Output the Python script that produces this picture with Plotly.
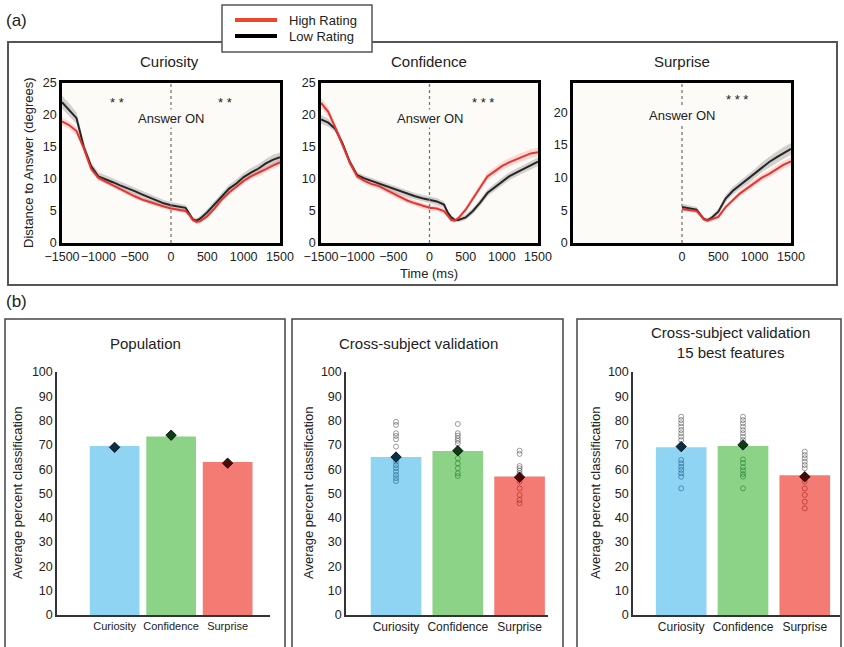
import plotly.graph_objects as go

W, H = 844, 647

# ---------------- data: panel (a) ----------------
TIME = [-1500, -1400, -1300, -1200, -1100, -1000, -900, -800, -700, -600, -500, -400, -300, -200, -100,
        0, 100, 200, 250, 300, 350, 400, 500, 600, 700, 800, 900, 1000, 1100, 1200, 1300, 1400, 1500]
TIME_S = [0, 100, 200, 250, 300, 350, 400, 500, 600, 700, 800, 900, 1000, 1100, 1200, 1300, 1400, 1500]
X_TICKS = [-1500, -1000, -500, 0, 500, 1000, 1500]
X_TICKS_S = [0, 500, 1000, 1500]
Y_TICKS_A = [0, 5, 10, 15, 20, 25]
Y_TICKS_S = [0, 5, 10, 15, 20]

CUR_HIGH = [19.0, 18.4, 17.5, 14.8, 11.6, 10.2, 9.6, 9.0, 8.5, 7.9, 7.3, 6.8, 6.4, 6.0, 5.7,
            5.4, 5.2, 5.0, 4.4, 3.6, 3.3, 3.4, 4.2, 5.4, 6.8, 7.9, 8.8, 9.7, 10.4, 10.9, 11.5, 12.1, 12.6]
CUR_LOW = [22.0, 20.8, 19.5, 15.0, 12.0, 10.4, 10.0, 9.5, 9.0, 8.6, 8.1, 7.6, 7.1, 6.6, 6.2,
           5.9, 5.7, 5.5, 4.6, 3.7, 3.5, 3.8, 4.8, 6.0, 7.3, 8.5, 9.3, 10.3, 11.0, 11.6, 12.4, 13.0, 13.4]
CUR_HIGH_SEM = [0.6, 0.6, 0.6, 0.5, 0.4, 0.4, 0.4, 0.4, 0.4, 0.4, 0.4, 0.35, 0.35, 0.35, 0.35,
                0.35, 0.35, 0.35, 0.3, 0.3, 0.3, 0.3, 0.35, 0.4, 0.4, 0.4, 0.45, 0.45, 0.45, 0.5, 0.5, 0.5, 0.5]
CUR_LOW_SEM = [1.0, 1.0, 0.9, 0.8, 0.7, 0.6, 0.6, 0.6, 0.6, 0.6, 0.55, 0.55, 0.5, 0.5, 0.5,
               0.5, 0.5, 0.45, 0.4, 0.35, 0.35, 0.4, 0.5, 0.55, 0.6, 0.6, 0.65, 0.65, 0.7, 0.7, 0.7, 0.75, 0.75]

CONF_HIGH = [21.9, 20.5, 18.0, 15.3, 12.5, 10.4, 9.7, 9.2, 8.9, 8.3, 7.7, 7.1, 6.6, 6.2, 5.8,
             5.5, 5.4, 5.0, 4.3, 3.6, 3.5, 3.9, 5.2, 7.0, 8.8, 10.4, 11.2, 12.0, 12.6, 13.1, 13.5, 14.0, 14.2]
CONF_LOW = [19.3, 18.8, 17.8, 15.5, 12.6, 10.6, 10.1, 9.7, 9.2, 8.8, 8.4, 8.0, 7.6, 7.3, 7.0,
            6.8, 6.5, 6.0, 4.8, 4.0, 3.6, 3.6, 4.0, 5.0, 6.3, 7.8, 8.7, 9.6, 10.4, 11.0, 11.6, 12.2, 12.7]
CONF_HIGH_SEM = [0.8, 0.7, 0.6, 0.5, 0.5, 0.45, 0.45, 0.45, 0.45, 0.45, 0.45, 0.45, 0.45, 0.45, 0.45,
                 0.45, 0.45, 0.4, 0.35, 0.3, 0.3, 0.35, 0.45, 0.5, 0.55, 0.6, 0.6, 0.6, 0.65, 0.65, 0.7, 0.7, 0.7]
CONF_LOW_SEM = [0.7, 0.6, 0.55, 0.5, 0.5, 0.45, 0.45, 0.45, 0.5, 0.5, 0.5, 0.5, 0.5, 0.5, 0.55,
                0.55, 0.55, 0.5, 0.4, 0.35, 0.3, 0.3, 0.4, 0.45, 0.5, 0.55, 0.6, 0.6, 0.6, 0.6, 0.65, 0.65, 0.65]

SUR_HIGH = [5.2, 5.1, 4.9, 4.3, 3.6, 3.4, 3.6, 4.0, 5.5, 6.6, 7.6, 8.4, 9.2, 10.0, 10.6, 11.3, 12.0, 12.5]
SUR_LOW = [5.5, 5.3, 5.1, 4.4, 3.7, 3.5, 3.8, 4.8, 6.8, 8.0, 8.9, 9.7, 10.6, 11.6, 12.4, 13.1, 13.8, 14.4]
SUR_HIGH_SEM = [0.4, 0.35, 0.35, 0.3, 0.3, 0.3, 0.3, 0.35, 0.4, 0.45, 0.45, 0.5, 0.5, 0.55, 0.55, 0.6, 0.6, 0.6]
SUR_LOW_SEM = [0.5, 0.45, 0.4, 0.35, 0.3, 0.3, 0.35, 0.45, 0.55, 0.6, 0.65, 0.7, 0.7, 0.75, 0.8, 0.85, 0.9, 0.9]

# ---------------- data: panel (b) ----------------
CATS = ["Curiosity", "Confidence", "Surprise"]
Y_TICKS_B = [0, 10, 20, 30, 40, 50, 60, 70, 80, 90, 100]

POP_BARS = [69.5, 73.5, 63.0]
POP_MEANS = [69.0, 74.0, 62.5]

CS_BARS = [65.0, 67.5, 57.0]
CS_MEANS = [65.0, 67.6, 56.7]
CS_CUR = [79.5, 78.2, 74.8, 73.7, 72.3, 69.3, 63.1, 61.7, 60.4, 59.0, 57.6, 56.3, 55.1]
CS_CONF = [78.6, 74.8, 73.8, 72.7, 71.7, 70.6, 64.5, 62.4, 60.4, 58.3, 57.2]
CS_SUR = [67.6, 66.3, 61.3, 60.4, 59.4, 58.3, 54.9, 52.1, 49.4, 47.3, 46.0]

BF_BARS = [69.0, 69.5, 57.5]
BF_MEANS = [69.3, 70.0, 56.9]
BF_CUR = [81.6, 80.2, 78.9, 77.5, 76.1, 74.8, 73.4, 72.0, 63.8, 62.4, 61.0, 59.7, 58.3, 56.9, 52.1]
BF_CONF = [81.6, 80.2, 78.9, 77.5, 76.1, 74.8, 73.4, 72.0, 64.0, 62.6, 60.8, 59.5, 58.0, 57.0, 52.1]
BF_SUR = [67.2, 65.8, 64.5, 63.1, 61.7, 60.4, 54.9, 52.1, 49.4, 46.6, 43.9]

# ---------------- styles ----------------
FONT = "Liberation Sans, Arial, sans-serif"
RED = "#e8342f"
BLACK = "#262626"
RED_BAND = "rgba(240,90,90,0.22)"
BLACK_BAND = "rgba(110,110,110,0.30)"
BAR_COLORS = ["#8fd4f3", "#8cd388", "#f47b73"]
DOT_IN = ["rgba(20,85,135,0.55)", "rgba(20,120,40,0.55)", "rgba(160,25,25,0.55)"]
DOT_OUT = "rgba(60,60,60,0.5)"
MEAN_COL = ["#0c2f48", "#0c3d16", "#4a0909"]
PLOT_BG = "#fcfbf8"


def X(px):
    return px / W


def Y(py):
    return 1 - py / H


fig = go.Figure()


def add_band(t, m, s, color, xa, ya):
    up = [a + b for a, b in zip(m, s)]
    lo = [a - b for a, b in zip(m, s)]
    fig.add_trace(go.Scatter(x=t + t[::-1], y=up + lo[::-1], fill="toself", fillcolor=color,
                             line=dict(width=0), mode="lines", hoverinfo="skip",
                             showlegend=False, xaxis=xa, yaxis=ya))


def add_line(t, m, color, name, xa, ya):
    fig.add_trace(go.Scatter(x=t, y=m, mode="lines", line=dict(color=color, width=2),
                             name=name, showlegend=False, xaxis=xa, yaxis=ya))


top = [
    (TIME, CUR_HIGH, CUR_HIGH_SEM, CUR_LOW, CUR_LOW_SEM, "x", "y"),
    (TIME, CONF_HIGH, CONF_HIGH_SEM, CONF_LOW, CONF_LOW_SEM, "x2", "y2"),
    (TIME_S, SUR_HIGH, SUR_HIGH_SEM, SUR_LOW, SUR_LOW_SEM, "x3", "y3"),
]
for t, hi, his, lo, los, xa, ya in top:
    add_band(t, lo, los, BLACK_BAND, xa, ya)
    add_band(t, hi, his, RED_BAND, xa, ya)
    add_line(t, lo, BLACK, "Low Rating", xa, ya)
    add_line(t, hi, RED, "High Rating", xa, ya)

# bar panels
bottom = [
    (POP_BARS, POP_MEANS, None, "x4", "y4"),
    (CS_BARS, CS_MEANS, [CS_CUR, CS_CONF, CS_SUR], "x5", "y5"),
    (BF_BARS, BF_MEANS, [BF_CUR, BF_CONF, BF_SUR], "x6", "y6"),
]
for bars, means, subj, xa, ya in bottom:
    fig.add_trace(go.Bar(x=CATS, y=bars, marker=dict(color=BAR_COLORS, line=dict(width=0)),
                         width=0.82 if xa != "x4" else 0.88, showlegend=False, xaxis=xa, yaxis=ya))
    if subj is not None:
        for i, vals in enumerate(subj):
            cols = [DOT_IN[i] if v < bars[i] else DOT_OUT for v in vals]
            fig.add_trace(go.Scatter(x=[CATS[i]] * len(vals), y=vals, mode="markers",
                                     marker=dict(symbol="circle-open", size=5, color=cols,
                                                 line=dict(width=1, color=cols)),
                                     showlegend=False, xaxis=xa, yaxis=ya))
    fig.add_trace(go.Scatter(x=CATS, y=means, mode="markers",
                             marker=dict(symbol="diamond", size=8, color=MEAN_COL,
                                         line=dict(width=0.8, color="black")),
                             showlegend=False, xaxis=xa, yaxis=ya))

tick_font = dict(family=FONT, size=12.5, color="#222")

top_x = dict(range=[-1500, 1500], showline=True, mirror=True, linewidth=2.5, linecolor="black",
             showgrid=False, zeroline=False, ticks="", tickfont=tick_font, tickangle=0, automargin=False)
top_y = dict(showline=True, mirror=True, linewidth=2.5, linecolor="black",
             showgrid=False, zeroline=False, ticks="", tickfont=tick_font, automargin=False)

yd_top = [Y(243), Y(83)]
yd_bot = [Y(615), Y(372)]

bar_x = dict(type="category", showline=True, linewidth=1.5, linecolor="#333", showgrid=False,
             zeroline=False, ticks="", tickfont=dict(family=FONT, size=12, color="#222"),
             tickangle=0, automargin=False)
bar_y = dict(range=[0, 100], tickvals=Y_TICKS_B, showline=True, linewidth=1.5, linecolor="#333",
             showgrid=False, zeroline=False, ticks="", tickfont=tick_font, automargin=False)

fig.update_layout(
    template="none",
    width=W, height=H, margin=dict(l=0, r=0, t=0, b=0, autoexpand=False),
    paper_bgcolor="white", plot_bgcolor="white",
    font=dict(family=FONT, color="#222"),
    showlegend=False,
    xaxis=dict(top_x, domain=[X(62), X(280)], tickvals=X_TICKS, anchor="y"),
    yaxis=dict(top_y, domain=yd_top, range=[0, 25], tickvals=Y_TICKS_A, anchor="x"),
    xaxis2=dict(top_x, domain=[X(321), X(538)], tickvals=X_TICKS, anchor="y2"),
    yaxis2=dict(top_y, domain=yd_top, range=[0, 25], tickvals=Y_TICKS_A, anchor="x2"),
    xaxis3=dict(top_x, domain=[X(573), X(791)], tickvals=X_TICKS_S, anchor="y3"),
    yaxis3=dict(top_y, domain=yd_top, range=[0, 24.5], tickvals=Y_TICKS_S, anchor="x3"),
    xaxis4=dict(bar_x, domain=[X(57), X(270)], range=[-1.02, 2.75], anchor="y4",
                tickfont=dict(family=FONT, size=11, color="#222")),
    yaxis4=dict(bar_y, domain=yd_bot, anchor="x4"),
    xaxis5=dict(bar_x, domain=[X(346), X(548)], range=[-0.81, 2.46], anchor="y5"),
    yaxis5=dict(bar_y, domain=yd_bot, anchor="x5"),
    xaxis6=dict(bar_x, domain=[X(633), X(840)], range=[-0.78, 2.57], anchor="y6"),
    yaxis6=dict(bar_y, domain=yd_bot, anchor="x6"),
)

shapes = []
# off-white plot backgrounds for panel (a)
for x0, x1 in [(62, 280), (321, 538), (573, 791)]:
    shapes.append(dict(type="rect", xref="paper", yref="paper", x0=X(x0), x1=X(x1), y0=Y(243), y1=Y(83),
                       line=dict(width=0), fillcolor=PLOT_BG, layer="below"))
# outer frames
shapes.append(dict(type="rect", xref="paper", yref="paper", x0=X(8), x1=X(837), y0=Y(285), y1=Y(42),
                   line=dict(color="#555", width=2), layer="below"))
for x0, x1 in [(5, 285), (292, 563), (577, 841)]:
    shapes.append(dict(type="rect", xref="paper", yref="paper", x0=X(x0), x1=X(x1), y0=Y(720), y1=Y(319),
                       line=dict(color="#444", width=1.5), layer="below"))
# legend box
shapes.append(dict(type="rect", xref="paper", yref="paper", x0=X(222), x1=X(372), y0=Y(52), y1=Y(5),
                   line=dict(color="#555", width=1.5), fillcolor="white", layer="above"))
shapes.append(dict(type="line", xref="paper", yref="paper", x0=X(235), x1=X(277), y0=Y(20), y1=Y(20),
                   line=dict(color="#f0452d", width=4)))
shapes.append(dict(type="line", xref="paper", yref="paper", x0=X(235), x1=X(277), y0=Y(36), y1=Y(36),
                   line=dict(color="black", width=4)))
# answer onset lines
for xa, ya in [("x", "y"), ("x2", "y2"), ("x3", "y3")]:
    shapes.append(dict(type="line", xref=xa, yref=ya + " domain", x0=0, x1=0, y0=0, y1=1,
                       line=dict(color="#777", width=1.3, dash="dot"), layer="above"))
fig.update_layout(shapes=shapes)

ann = []


def txt(text, px, py, size=13, xanchor="center", yanchor="middle", **kw):
    ann.append(dict(text=text, x=X(px), y=Y(py), xref="paper", yref="paper", showarrow=False,
                    font=dict(family=FONT, size=size, color="#222"), xanchor=xanchor, yanchor=yanchor, **kw))


txt("(a)", 4, 21, size=17, xanchor="left")
txt("(b)", 4, 301, size=17, xanchor="left")
txt("High Rating", 287, 20, size=13, xanchor="left")
txt("Low Rating", 287, 36, size=13, xanchor="left")
txt("Curiosity", 169, 61, size=15)
txt("Confidence", 429, 61, size=15)
txt("Surprise", 682, 61, size=15)
txt("Population", 145, 343, size=15)
txt("Cross-subject validation", 418, 343, size=15)
txt("Cross-subject validation<br>15 best features", 730, 342, size=15)
txt("Time (ms)", 429, 273, size=13)
txt("Distance to Answer (degrees)", 28, 163, size=13, textangle=-90)
for px in [17, 308, 595]:
    txt("Average percent classification", px, 493, size=13, textangle=-90)

for xa, ya in [("x", "y"), ("x2", "y2"), ("x3", "y3")]:
    ann.append(dict(text="Answer ON", x=0, y=19.5, xref=xa, yref=ya, showarrow=False,
                    font=dict(family=FONT, size=13, color="#222"), bgcolor=PLOT_BG, borderpad=1))

for txt_s, xv, xa, ya in [("* *", -750, "x", "y"), ("* *", 740, "x", "y"),
                          ("* * *", 740, "x2", "y2"), ("* * *", 755, "x3", "y3")]:
    ann.append(dict(text=txt_s, x=xv, y=22.0, xref=xa, yref=ya, showarrow=False,
                    font=dict(family=FONT, size=13, color="#222")))

fig.update_layout(annotations=ann)

fig.write_html("out.html", config={"displayModeBar": False},
               post_script="document.body.style.margin='0';")
